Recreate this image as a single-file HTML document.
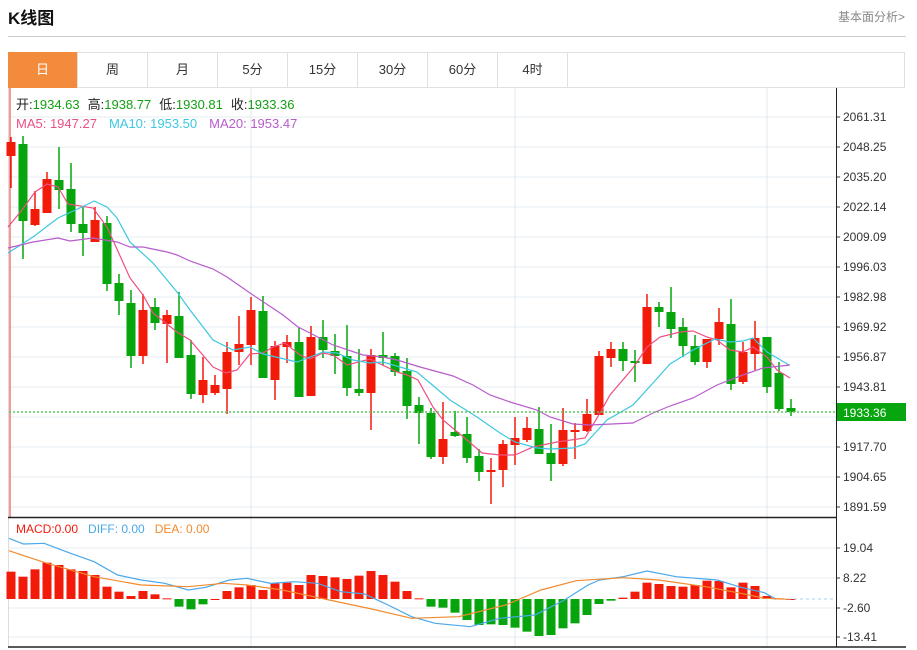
<!DOCTYPE html>
<html><head><meta charset="utf-8"><style>
body{margin:0;background:#fff;width:917px;height:650px;overflow:hidden;font-family:"Liberation Sans","Noto Sans CJK SC",sans-serif;position:relative}
.t{position:absolute;white-space:nowrap}
.tab{position:absolute;top:52px;height:36px;width:70px;border-right:1px solid #e0e0e0;text-align:center;line-height:36px;font-size:13px;color:#333;box-sizing:border-box}
</style></head><body>
<div class="t" style="left:8px;top:4px;font-size:17px;font-weight:bold;color:#111">K线图</div>
<div class="t" style="left:838px;top:8px;font-size:12px;color:#888">基本面分析&gt;</div>
<div style="position:absolute;left:8px;top:36px;width:898px;height:1px;background:#ccc"></div>
<div style="position:absolute;left:8px;top:52px;width:897px;height:36px;border:1px solid #e0e0e0;box-sizing:border-box"></div>
<div class="tab" style="left:8px;background:#f28c3c;color:#fff">日</div>
<div class="tab" style="left:78px">周</div>
<div class="tab" style="left:148px">月</div>
<div class="tab" style="left:218px">5分</div>
<div class="tab" style="left:288px">15分</div>
<div class="tab" style="left:358px">30分</div>
<div class="tab" style="left:428px">60分</div>
<div class="tab" style="left:498px">4时</div>
<svg id="s" width="917" height="650" style="position:absolute;left:0;top:0" font-family="Liberation Sans, Noto Sans CJK SC, sans-serif"></svg>
<script>
var s=document.getElementById('s'),h='';
function L(x1,y1,x2,y2,c,w,d){h+='<line x1="'+x1+'" y1="'+y1+'" x2="'+x2+'" y2="'+y2+'" stroke="'+c+'" stroke-width="'+(w||1)+'"'+(d?' stroke-dasharray="'+d+'"':'')+'/>';}
function T(x,y,t,c,sz){h+='<text x="'+x+'" y="'+y+'" fill="'+c+'" font-size="'+(sz||12)+'">'+t+'</text>';}
// grid
var labs=['2061.31','2048.25','2035.20','2022.14','2009.09','1996.03','1982.98','1969.92','1956.87','1943.81','','1917.70','1904.65','1891.59'];
for(var i=0;i<14;i++){var y=117+30*i;L(9,y,836,y,'#e6ecf2');L(836,y,840,y,'#333');if(labs[i])T(843,y+4,labs[i],'#333',12);}
[548,578,608,637].forEach(function(y){L(9,y,836,y,'#e6ecf2');L(836,y,840,y,'#333');});
[[548,'19.04'],[578,'8.22'],[608,'-2.60'],[637,'-13.41']].forEach(function(a){T(843,a[0]+4,a[1],'#333',12);});
[251,515,767].forEach(function(x){L(x,88,x,647,'#e3e9ef');});
L(8.5,88,8.5,647,'#ddd');L(10,88,10,517,'#e33');
L(836.5,88,836.5,647,'#222');L(8,517.5,836,517.5,'#222',1.5);L(8,647,906,647,'#222',1.5);
// candles
var C=[['r',142,156,137,188],['g',144,221,136,259],['r',209,225,191,226],['r',179,213,172,213],['g',180,190,147,209],['g',189,224,163,232],['g',224,233,207,256],['r',220,242,207,242],['g',223,284,216,291],['g',283,301,274,315],['g',303,356,290,368],['r',310,356,294,364],['g',307,323,298,330],['r',315,324,310,363],['g',316,358,292,358],['g',355,394,340,399],['r',380,395,357,403],['r',385,393,375,395],['r',352,389,342,414],['r',344,352,316,365],['r',310,345,297,365],['g',311,378,296,378],['r',346,380,341,400],['r',342,347,335,363],['g',342,397,327,397],['r',337,396,326,396],['g',337,350,320,358],['g',351,356,334,374],['g',356,388,325,396],['g',389,393,349,396],['r',355,393,349,430],['g',355,358,332,365],['g',356,372,353,376],['g',371,406,358,419],['g',405,413,397,444],['g',413,457,408,459],['r',439,457,402,464],['g',432,436,411,437],['g',434,458,417,463],['g',456,472,449,481],['r',470,472,458,504],['r',444,470,440,487],['r',438,445,417,465],['r',428,440,417,442],['g',429,454,407,454],['g',453,464,424,481],['r',430,464,408,466],['r',430,432,423,459],['r',414,431,399,432],['r',356,415,351,415],['r',349,358,342,367],['g',349,361,342,371],['g',361,363,350,382],['r',307,364,294,364],['g',307,312,302,327],['g',312,329,287,338],['g',327,346,318,357],['g',346,362,335,365],['r',339,362,339,368],['r',322,339,308,345],['g',324,384,299,390],['r',352,382,342,384],['r',338,354,321,370],['g',337,387,337,393],['g',373,409,362,411],['g',408,412,399,416]];
C.forEach(function(c,i){var x=11+12*i,col=c[0]=='r'?'#f21b0a':'#06a50e';L(x,c[3],x,c[4],col,1.5);h+='<rect x="'+(x-4.5)+'" y="'+c[1]+'" width="9" height="'+Math.max(2,c[2]-c[1])+'" fill="'+col+'"/>';});
function P(pts,c,w){h+='<polyline fill="none" stroke="'+c+'" stroke-width="'+(w||1.2)+'" points="'+pts.map(function(p){return p[0]+','+p[1]}).join(' ')+'"/>';}
P([[8,227],[22,210],[35,192],[47,184],[58,187],[68,204],[93,208],[107,227],[130,278],[143,295],[153,313],[177,332],[190,340],[213,367],[226,373],[237,370],[250,354],[263,353],[273,347],[285,343],[300,355],[310,359],[323,353],[333,355],[347,365],[370,359],[397,372],[407,375],[418,380],[433,407],[443,420],[467,440],[482,453],[500,455],[515,455],[533,447],[557,442],[585,438],[600,413],[610,395],[633,368],[647,347],[660,337],[680,332],[693,331],[707,337],[717,340],[730,350],[743,352],[753,347],[767,357],[777,370],[790,378]],'#ee4f82');
P([[8,253],[33,237],[58,218],[82,207],[94,201],[107,207],[117,218],[130,242],[153,263],[177,292],[190,310],[213,340],[233,350],[250,347],[263,354],[297,362],[310,357],[323,352],[337,353],[353,360],[370,363],[383,362],[400,367],[417,372],[430,383],[450,400],[477,417],[500,433],[515,442],[537,448],[550,449],[573,448],[585,444],[607,420],[633,405],[653,383],[670,364],[693,350],[715,339],[730,342],[743,341],[753,338],[767,352],[789,365]],'#3cc8e0');
P([[8,248],[33,242],[58,238],[70,241],[93,238],[117,242],[130,247],[143,247],[167,252],[177,255],[190,261],[213,269],[227,277],[250,293],[283,315],[298,327],[310,333],[333,345],[363,355],[383,357],[397,360],[420,367],[453,376],[473,385],[490,395],[510,402],[537,410],[550,417],[573,424],[590,425],[633,423],[653,413],[670,406],[693,398],[717,385],[743,375],[763,368],[790,365]],'#b85ccc');
L(9,412,836,412,'#5cc85c',1.5,'2,2');
h+='<rect x="837" y="403" width="69" height="18" fill="#07a50e"/>';T(843,417,'1933.36','#fff',12);
// info
h+='<text x="16" y="109" font-size="13"><tspan fill="#222">开:</tspan><tspan fill="#14a014">1934.63</tspan><tspan fill="#222" dx="8">高:</tspan><tspan fill="#14a014">1938.77</tspan><tspan fill="#222" dx="8">低:</tspan><tspan fill="#14a014">1930.81</tspan><tspan fill="#222" dx="8">收:</tspan><tspan fill="#14a014">1933.36</tspan></text>';
h+='<text x="16" y="128" font-size="13"><tspan fill="#ee4f82">MA5: 1947.27</tspan><tspan fill="#3cc8e0" dx="12">MA10: 1953.50</tspan><tspan fill="#b85ccc" dx="12">MA20: 1953.47</tspan></text>';
h+='<text x="16" y="533" font-size="12"><tspan fill="#f21b0a">MACD:0.00</tspan><tspan fill="#4aa8ec" dx="10">DIFF: 0.00</tspan><tspan fill="#f28a2e" dx="10">DEA: 0.00</tspan></text>';
// macd
var M=[185,200,178,158,165,178,183,195,230,245,258,243,253,265,290,298,283,268,243,232,225,240,220,218,225,195,198,202,207,197,183,195,215,243,265,290,293,308,330,345,343,345,353,365,378,375,355,340,315,282,272,263,245,218,222,228,230,225,212,213,232,218,228,258,265,268];
M.forEach(function(z,i){var x=11+12*i,y=510+z/3,z0=599;var g=z>268;var t=Math.min(y,z0),hh=Math.abs(y-z0);if(hh<1)hh=1;h+='<rect x="'+(x-4.5)+'" y="'+t+'" width="9" height="'+hh+'" fill="'+(g?'#06a50e':'#f21b0a')+'"/>';});
function Q(a){return a.map(function(p){return [p[0]*0.588,510+p[1]/3]});}
P(Q([[15,85],[40,102],[75,100],[120,130],[160,155],[200,195],[240,210],[280,220],[320,240],[350,232],[390,210],[420,205],[460,220],[500,215],[540,220],[580,245],[620,252],[660,285],[700,320],[740,340],[800,350],[850,325],[910,315],[960,270],[1000,225],[1020,210],[1060,200],[1100,183],[1150,200],[1220,210],[1260,232],[1300,248],[1320,268]]),'#4aa8ec');
P(Q([[15,122],[80,160],[160,200],[240,225],[320,230],[380,220],[420,225],[480,240],[560,270],[640,300],[700,325],[780,320],[860,285],[920,240],[980,212],[1060,203],[1120,210],[1200,230],[1260,250],[1300,265],[1340,268]]),'#f28a2e');
L(788,599,836,599,'#9fd3f0',1,'3,3');
s.innerHTML=h;
</script>
</body></html>
